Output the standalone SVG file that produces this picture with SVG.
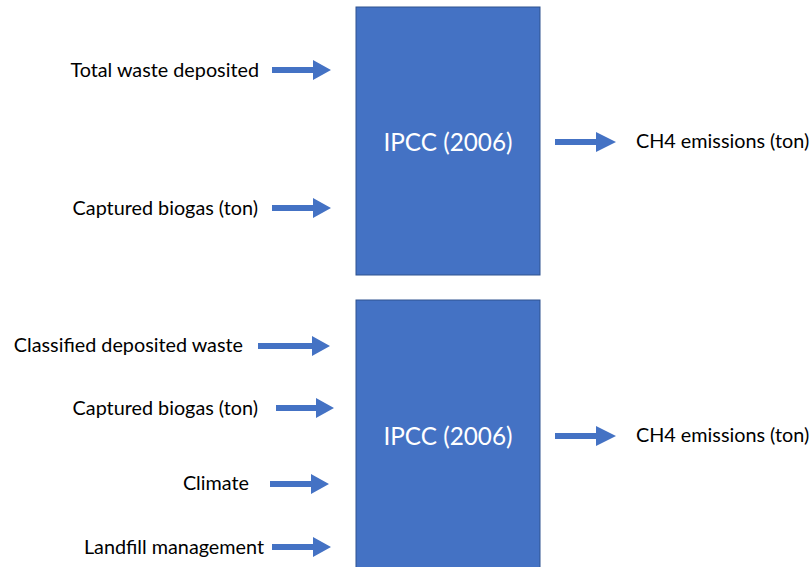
<svg xmlns="http://www.w3.org/2000/svg" width="811" height="567" viewBox="0 0 811 567">
<defs>
<style>
.box{fill:#4472C4;stroke:#2F528F;stroke-width:1}
.lbl{font-family:Lato,"Open Sans",sans-serif;font-size:19.8px;fill:#000}
.title{font-family:Lato,"Open Sans",sans-serif;font-size:24.3px;fill:#fff;text-anchor:middle}
.arr{fill:#4472C4}
</style>
</defs>
<rect width="811" height="567" fill="#fff"/>
<g id="model1">
<rect class="box" x="356" y="7" width="184" height="268"/>
<text class="title" x="448" y="151">IPCC (2006)</text>
</g>
<g id="model2">
<rect class="box" x="356" y="300" width="184" height="280"/>
<text class="title" x="448" y="445">IPCC (2006)</text>
</g>
<g id="in1"><text class="lbl" x="259" y="77" text-anchor="end">Total waste deposited</text></g>
<g id="in2"><text class="lbl" x="258" y="215" text-anchor="end">Captured biogas (ton)</text></g>
<g id="out1"><text class="lbl" x="636" y="148">CH4 emissions (ton)</text></g>
<g id="in3"><text class="lbl" x="243" y="352" text-anchor="end">Classified deposited waste</text></g>
<g id="in4"><text class="lbl" x="258" y="415" text-anchor="end">Captured biogas (ton)</text></g>
<g id="in5"><text class="lbl" x="249" y="490" text-anchor="end">Climate</text></g>
<g id="in6"><text class="lbl" x="264" y="554" text-anchor="end">Landfill management</text></g>
<g id="out2"><text class="lbl" x="636" y="442">CH4 emissions (ton)</text></g>
<g id="connectors">
<path class="arr" d="M272,67 H313 V60 L331,70 L313,80 V73 H272 Z"/>
<path class="arr" d="M272,205 H313 V198 L331,208 L313,218 V211 H272 Z"/>
<path class="arr" d="M555,139 H596 V132 L616,142 L596,152 V145 H555 Z"/>
<path class="arr" d="M258,343 H312 V336 L330,346 L312,356 V349 H258 Z"/>
<path class="arr" d="M276,405 H316 V398 L334,408 L316,418 V411 H276 Z"/>
<path class="arr" d="M270,481 H311 V474 L329,484 L311,494 V487 H270 Z"/>
<path class="arr" d="M272,544 H313 V537 L331,547 L313,557 V550 H272 Z"/>
<path class="arr" d="M555,433 H596 V426 L616,436 L596,446 V439 H555 Z"/>
</g>
</svg>
